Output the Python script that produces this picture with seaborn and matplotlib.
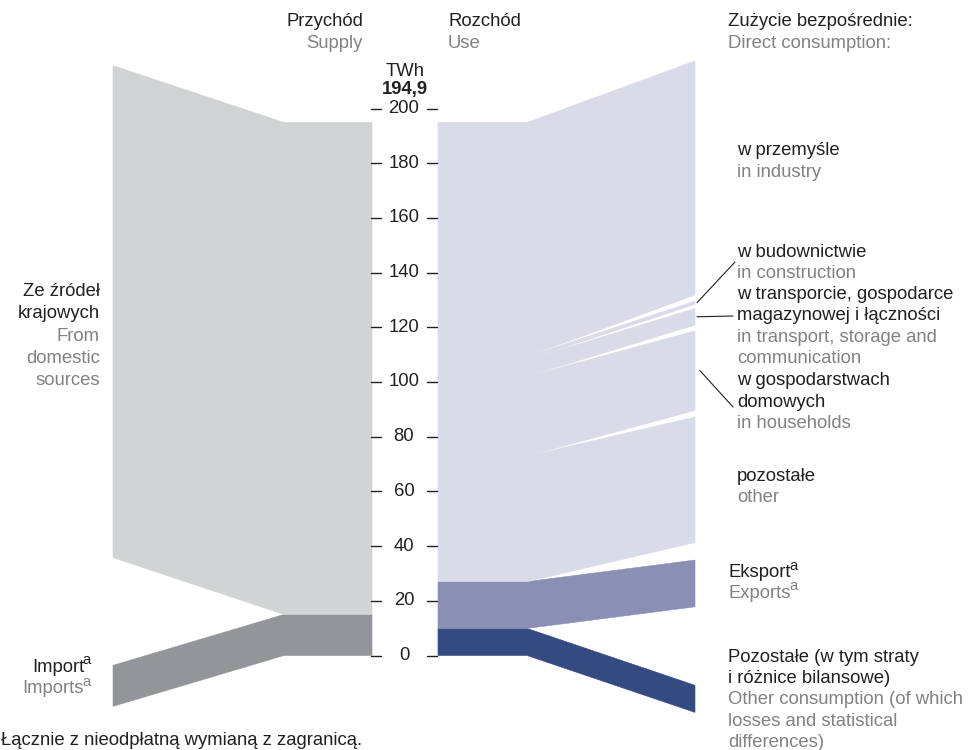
import matplotlib.pyplot as plt
import seaborn as sns

# Bilans energii elektrycznej, TWh
total = 194.9
supply_names = ["Import", "Ze źródeł krajowych"]
supply_values = [15.0, 179.9]
use_names = ["Pozostałe", "Eksport", "pozostałe", "w gospodarstwach domowych",
             "w transporcie", "w budownictwie", "w przemyśle"]
use_values = [9.9, 17.1, 45.9, 29.1, 6.1, 1.2, 85.6]
tick_values = [0, 20, 40, 60, 80, 100, 120, 140, 160, 180, 200]

# look
supply_colors = ["#939598", "#d1d3d4"]
use_colors = ["#344b82", "#8a8fb3", "#dadbe9", "#dadbe9", "#dadbe9", "#dadbe9", "#dadbe9"]
supply_shift = [-18.6, 20.8]
use_shift = [-20.8, 7.9, 14.3, 16.7, 18.8, 20.3, 22.5]
BLACK = "#231f20"
GREY = "#808285"
FS = 13.3

sns.set_theme(style="white")
plt.rcParams["font.family"] = ["Liberation Sans", "DejaVu Sans"]

W, H = 969, 750
Y0, SCALE = 655.5, 2.735  # pixel of 0 TWh, pixels per TWh


def px2y(p):
    return (Y0 - p) / SCALE


fig = plt.figure(figsize=(W / 100, H / 100), dpi=100)
ax = fig.add_axes([0, 0, 1, 1])
ax.set_xlim(0, W)
ax.set_ylim(px2y(H), px2y(0))
ax.axis("off")
renderer = fig.canvas.get_renderer()

# supply side
lo = 0
for v, c, s in zip(supply_values, supply_colors, supply_shift):
    hi = lo + v
    ax.fill([372, 284, 113, 113, 284, 372], [lo, lo, lo + s, hi + s, hi, hi],
            color=c, lw=0.4, ec=c)
    lo = hi

# use side
lo = 0
right_mid = {}
for name, v, c, s in zip(use_names, use_values, use_colors, use_shift):
    hi = lo + v
    ax.fill([438, 527, 695, 695, 527, 438], [lo, lo, lo + s, hi + s, hi, hi],
            color=c, lw=0.4, ec=c)
    right_mid[name] = (lo + hi) / 2 + s
    lo = hi

# axis in the middle
for t in tick_values:
    ax.plot([371, 381], [t, t], color=BLACK, lw=1)
    ax.plot([427, 437], [t, t], color=BLACK, lw=1)
    ax.text(404, t, str(t), ha="center", va="center", fontsize=FS, color=BLACK)


def txt(x, y, s, color=BLACK, ha="left", size=FS, **kw):
    return fig.text(x / W, 1 - y / H, s, color=color, ha=ha, va="baseline",
                    fontsize=size, **kw)


def txt_sup(x, y, s, color=BLACK, ha="left"):
    # text with a superscript "a"
    if ha == "left":
        t = txt(x, y, s, color)
        x1 = t.get_window_extent(renderer).x1
        txt(x1 - 1.5, y - 7.5, "a", color, size=FS * 0.8)
    else:
        a = txt(x, y - 7.5, "a", color, ha="right", size=FS * 0.8)
        x0 = a.get_window_extent(renderer).x0
        txt(x0 + 1.5, y, s, color, ha="right")


txt(405, 76, "TWh", ha="center")
txt(405, 94, f"{total:.1f}".replace(".", ","), ha="center", fontweight="bold")

txt(363, 26, "Przychód", ha="right")
txt(363, 48, "Supply", GREY, ha="right")
txt(448, 26, "Rozchód")
txt(448, 48, "Use", GREY)
txt(728, 26, "Zużycie bezpośrednie:")
txt(728, 48, "Direct consumption:", GREY)

for i, (s, col) in enumerate([("Ze źródeł", BLACK), ("krajowych", BLACK),
                              ("From", GREY), ("domestic", GREY), ("sources", GREY)]):
    txt(100, 296 + i * 22.3, s, col, ha="right")

txt_sup(91, 672, "Import", ha="right")
txt_sup(91, 693, "Imports", GREY, ha="right")

txt(737, 155, "w przemyśle")
txt(737, 177, "in industry", GREY)
txt(737, 257, "w budownictwie")
txt(737, 278, "in construction", GREY)
txt(737, 299, "w transporcie, gospodarce")
txt(737, 320, "magazynowej i łączności")
txt(737, 342, "in transport, storage and", GREY)
txt(737, 363, "communication", GREY)
txt(737, 385, "w gospodarstwach")
txt(737, 407, "domowych")
txt(737, 428, "in households", GREY)
txt(737, 481, "pozostałe")
txt(737, 502, "other", GREY)

txt_sup(728, 577, "Eksport")
txt_sup(728, 598, "Exports", GREY)
txt(728, 662, "Pozostałe (w tym straty")
txt(728, 683, "i różnice bilansowe)")
txt(728, 704, "Other consumption (of which", GREY)
txt(728, 726, "losses and statistical", GREY)
txt(728, 747, "differences)", GREY)

txt(1, 745, "Łącznie z nieodpłatną wymianą z zagranicą.")

# leader lines
ax.plot([697, 735], [right_mid["w budownictwie"], px2y(262)], color=BLACK, lw=0.8)
ax.plot([697, 733], [right_mid["w transporcie"], px2y(316)], color=BLACK, lw=0.8)
ax.plot([700, 733], [right_mid["w gospodarstwach domowych"], px2y(407)], color=BLACK, lw=0.8)

fig.savefig("out.png", dpi=100)
